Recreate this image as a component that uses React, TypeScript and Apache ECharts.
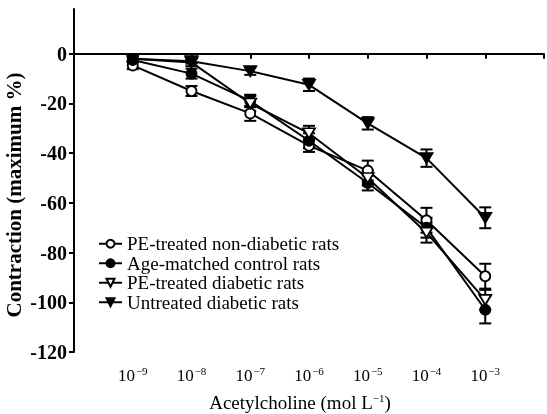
import React, { useEffect, useRef } from "react";
import * as echarts from "echarts";

const exponents = [-9, -8, -7, -6, -5, -4, -3];
const yTicks = [-120, -100, -80, -60, -40, -20, 0];

const seriesNames = [
  "PE-treated non-diabetic rats",
  "Age-matched control rats",
  "PE-treated diabetic rats",
  "Untreated diabetic rats",
];

const peNonDiabetic = [-4.7, -15, -24, -37, -47, -67, -89.5];
const peNonDiabeticErr = [1.5, 2, 3, 2.5, 4, 5, 5];
const ageMatched = [-2.5, -8, -19, -35, -52, -70, -103];
const ageMatchedErr = [1, 2, 2.5, 3, 3, 4, 5.5];
const peDiabetic = [-2, -3.5, -20, -32, -50, -72, -99];
const peDiabeticErr = [1, 1.5, 3, 3, 3, 4, 4];
const untreated = [-2, -3, -7, -12.5, -28, -42, -66];
const untreatedErr = [1, 1, 1.5, 2.5, 2.5, 3.5, 4.2];

const FONT = "Liberation Serif";
const TRI_DOWN = "path://M0,0 L12,0 L6,10 Z";

export default function App() {
  const ref = useRef<HTMLDivElement>(null);

  useEffect(() => {
    if (!ref.current) return;
    const chart = echarts.init(ref.current, undefined, { renderer: "svg" });

    const groups = [
      { name: seriesNames[0], vals: peNonDiabetic, err: peNonDiabeticErr, symbol: "circle", size: 10, fill: "#fff" },
      { name: seriesNames[1], vals: ageMatched, err: ageMatchedErr, symbol: "circle", size: 10, fill: "#000" },
      { name: seriesNames[2], vals: peDiabetic, err: peDiabeticErr, symbol: TRI_DOWN, size: [12, 10], fill: "#fff" },
      { name: seriesNames[3], vals: untreated, err: untreatedErr, symbol: TRI_DOWN, size: [12, 10], fill: "#000" },
    ];

    const series: any[] = [];
    groups.forEach((g, gi) => {
      series.push({
        type: "custom",
        name: "err" + gi,
        silent: true,
        z: 1,
        encode: { x: 0, y: [1, 2] },
        data: exponents.map((e, i) => [e, g.vals[i] - g.err[i], g.vals[i] + g.err[i]]),
        renderItem: (_p: any, api: any) => {
          const x = api.value(0);
          const lo = api.coord([x, api.value(1)]);
          const hi = api.coord([x, api.value(2)]);
          const hw = 6;
          const st = { stroke: "#000", lineWidth: 2 };
          return {
            type: "group",
            children: [
              { type: "line", shape: { x1: lo[0], y1: lo[1], x2: hi[0], y2: hi[1] }, style: st },
              { type: "line", shape: { x1: lo[0] - hw, y1: lo[1], x2: lo[0] + hw, y2: lo[1] }, style: st },
              { type: "line", shape: { x1: hi[0] - hw, y1: hi[1], x2: hi[0] + hw, y2: hi[1] }, style: st },
            ],
          };
        },
      });
    });
    groups.forEach((g) => {
      series.push({
        type: "line",
        name: g.name,
        z: 3,
        data: exponents.map((e, i) => [e, g.vals[i]]),
        symbol: g.symbol,
        symbolSize: g.size,
        showAllSymbol: true,
        lineStyle: { color: "#000", width: 2 },
        itemStyle: { color: g.fill, borderColor: "#000", borderWidth: 1.8 },
        emphasis: { disabled: true },
      });
    });

    chart.setOption({
      animation: false,
      grid: { left: 74, right: 1, top: 9, bottom: 62, containLabel: false },
      legend: {
        data: seriesNames,
        orient: "vertical",
        left: 98,
        top: 234,
        padding: 0,
        itemWidth: 23,
        itemHeight: 10,
        itemGap: 0,
        selectedMode: false,
        textStyle: { fontFamily: FONT, fontSize: 19, color: "#000", lineHeight: 19.5 },
      },
      xAxis: {
        type: "value",
        min: -10,
        max: -2,
        interval: 1,
        splitLine: { show: false },
        axisLine: { lineStyle: { color: "#000", width: 2 } },
        axisTick: { length: 5, lineStyle: { color: "#000", width: 2 } },
        axisLabel: {
          margin: 13,
          fontFamily: FONT,
          fontSize: 17,
          color: "#000",
          formatter: (v: number) =>
            exponents.includes(v) ? "{b|10}{s|\u2212" + Math.abs(v) + "}" : "",
          rich: {
            b: { fontFamily: FONT, fontSize: 17, color: "#000" },
            s: { fontFamily: FONT, fontSize: 11, color: "#000", padding: [0, 0, 9, 1] },
          },
        },
      },
      yAxis: {
        type: "value",
        min: -120,
        max: 18,
        interval: 20,
        splitLine: { show: false },
        axisLine: { lineStyle: { color: "#000", width: 2 } },
        axisTick: { length: 5, lineStyle: { color: "#000", width: 2 }, customValues: yTicks },
        axisLabel: {
          customValues: yTicks,
          margin: 7,
          fontFamily: FONT,
          fontSize: 20,
          fontWeight: "bold",
          color: "#000",
          formatter: (v: number) => (v < 0 ? "-" + Math.abs(v) : String(v)),
        },
      },
      graphic: [
        {
          type: "text",
          x: 14,
          y: 195,
          rotation: Math.PI / 2,
          style: {
            text: "Contraction (maximum %)",
            fontFamily: FONT,
            fontSize: 21,
            fontWeight: "bold",
            fill: "#000",
            align: "center",
            verticalAlign: "middle",
          },
        },
        {
          type: "text",
          x: 300,
          y: 402,
          style: {
            text: "{a|Acetylcholine (mol L}{s|\u22121}{a|)}",
            fontFamily: FONT,
            fontSize: 19,
            fill: "#000",
            align: "center",
            verticalAlign: "middle",
            rich: {
              a: { fontFamily: FONT, fontSize: 19, fill: "#000" } as any,
              s: { fontFamily: FONT, fontSize: 11, fill: "#000", padding: [0, 0, 9, 0] } as any,
            },
          },
        },
      ],
      series,
    });

    return () => chart.dispose();
  }, []);

  return (
    <div
      ref={ref}
      style={{ position: "fixed", left: 0, top: 0, width: 547, height: 414 }}
    />
  );
}
